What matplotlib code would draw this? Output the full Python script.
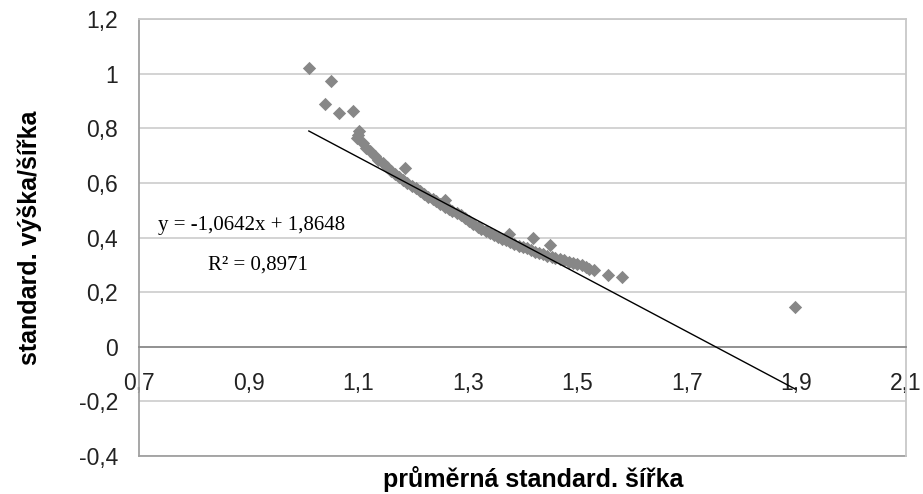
# %% import
import numpy as np
import matplotlib
matplotlib.use("Agg")
import matplotlib.pyplot as plt

plt.rcParams["font.family"] = ["Liberation Sans", "DejaVu Sans"]

# %% data
sirka = [1.010, 1.050, 1.039, 1.065, 1.091, 1.101, 1.097,
         1.100, 1.108, 1.115, 1.122, 1.130, 1.137, 1.145, 1.152, 1.160, 1.167,
         1.175, 1.182, 1.185, 1.190, 1.198, 1.205, 1.213, 1.220, 1.228, 1.236,
         1.243, 1.250, 1.258, 1.258, 1.265, 1.272, 1.280, 1.287, 1.295, 1.302,
         1.310, 1.318, 1.325, 1.333, 1.340, 1.348, 1.355, 1.363, 1.370, 1.375,
         1.378, 1.385, 1.393, 1.400, 1.408, 1.415, 1.419, 1.423, 1.430, 1.438,
         1.445, 1.450, 1.453, 1.460, 1.468, 1.476, 1.484, 1.492, 1.500, 1.508,
         1.515, 1.522, 1.530, 1.556, 1.581, 1.897]
vyska_sirka = [1.021, 0.974, 0.890, 0.856, 0.864, 0.789, 0.764,
               0.775, 0.745, 0.728, 0.715, 0.700, 0.685, 0.672, 0.660, 0.645, 0.632,
               0.620, 0.610, 0.655, 0.600, 0.590, 0.580, 0.571, 0.560, 0.550, 0.541,
               0.532, 0.523, 0.538, 0.513, 0.505, 0.497, 0.490, 0.482, 0.470, 0.460,
               0.450, 0.440, 0.432, 0.424, 0.416, 0.408, 0.402, 0.396, 0.390, 0.412,
               0.383, 0.376, 0.370, 0.365, 0.360, 0.354, 0.398, 0.348, 0.343, 0.338,
               0.333, 0.374, 0.328, 0.324, 0.320, 0.316, 0.312, 0.308, 0.304, 0.298,
               0.292, 0.286, 0.280, 0.264, 0.256, 0.147]

slope = -1.0642
intercept = 1.8648
r2 = "0,8971"

x_ticks = [0.7, 0.9, 1.1, 1.3, 1.5, 1.7, 1.9, 2.1]
x_labels = ["0,7", "0,9", "1,1", "1,3", "1,5", "1,7", "1,9", "2,1"]
y_ticks = [-0.4, -0.2, 0, 0.2, 0.4, 0.6, 0.8, 1.0, 1.2]
y_labels = ["-0,4", "-0,2", "0", "0,2", "0,4", "0,6", "0,8", "1", "1,2"]

# %% plot
fig = plt.figure(figsize=(9.23, 4.94), dpi=100)
ax = fig.add_axes([0.1506, 0.0769, 0.8310, 0.8846])

ax.scatter(sirka, vyska_sirka, marker="D", s=46, color="#878787",
           linewidths=0, zorder=3)

x_fit = np.array([min(sirka), max(sirka)])
ax.plot(x_fit, slope * x_fit + intercept, color="black", lw=1.0, zorder=4)

ax.set_xlim(0.7, 2.1)
ax.set_ylim(-0.4, 1.2)
ax.set_xticks(x_ticks)
ax.set_xticklabels(x_labels)
ax.set_yticks(y_ticks)
ax.set_yticklabels(y_labels)

ax.yaxis.grid(True, color="#d0d0d0", lw=1.3)
ax.set_axisbelow(True)

ax.spines["bottom"].set_position(("data", 0))
ax.spines["bottom"].set_color("#8c8c8c")
ax.spines["bottom"].set_linewidth(1.3)
ax.spines["left"].set_color("#a0a0a0")
ax.spines["left"].set_linewidth(1.3)
ax.spines["right"].set_color("#c8c8c8")
ax.spines["right"].set_linewidth(1.3)
ax.spines["top"].set_color("#c8c8c8")
ax.spines["top"].set_linewidth(1.3)
ax.axhline(-0.4, color="#a0a0a0", lw=1.3, clip_on=False)

ax.tick_params(axis="both", length=0, labelsize=16.5, colors="#222222")
ax.tick_params(axis="x", pad=18)
ax.tick_params(axis="y", pad=15)

ax.set_xlabel("průměrná standard. šířka", fontsize=18, fontweight="bold",
              va="baseline")
ax.set_ylabel("standard. výška/šířka", fontsize=18, fontweight="bold",
              va="center")
ax.xaxis.set_label_coords(0.514, -0.071)
ax.yaxis.set_label_coords(-0.142, 0.5)

eq = "y = -1,0642x + 1,8648"
ax.text(0.735, 0.4286, eq, family="Liberation Serif", fontsize=15,
        va="baseline", ha="left")
ax.text(0.826, 0.282, "R² = " + r2, family="Liberation Serif", fontsize=15,
        va="baseline", ha="left")

fig.savefig("out.png", dpi=100)
